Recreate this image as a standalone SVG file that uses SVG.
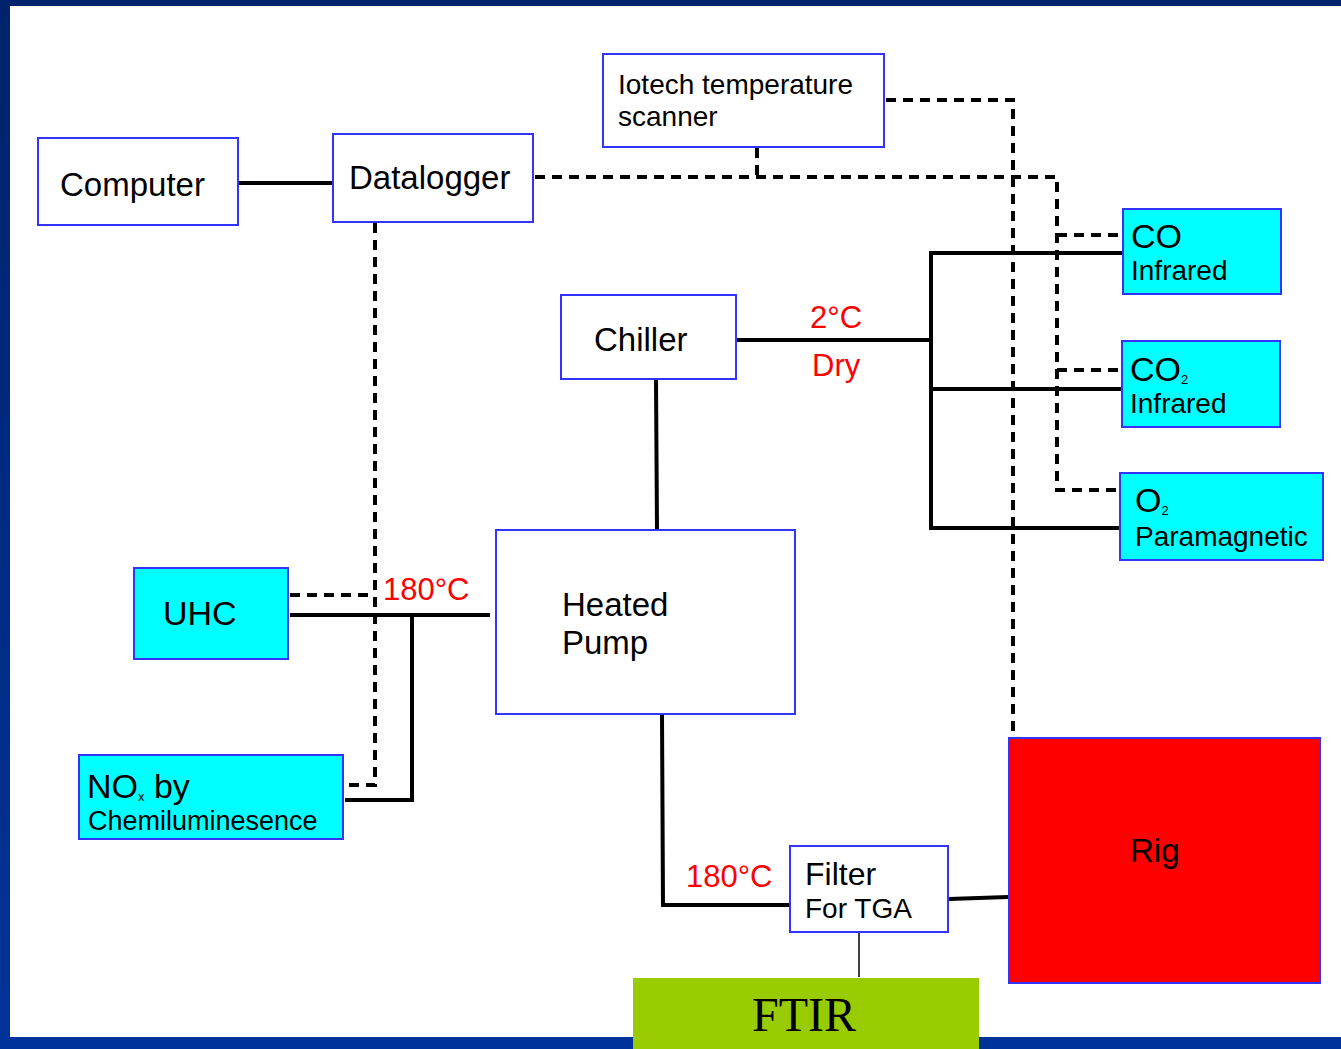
<svg xmlns="http://www.w3.org/2000/svg" width="1341" height="1049" viewBox="0 0 1341 1049">
<defs>
<linearGradient id="lg" x1="0" y1="0" x2="0" y2="1">
<stop offset="0" stop-color="#00236B"/>
<stop offset="1" stop-color="#003399"/>
</linearGradient>
<style>
.box{fill:#fff;stroke:#3333FF;stroke-width:2}
.cy{fill:#00FFFF;stroke:#3333FF;stroke-width:2}
.t{font-family:"Liberation Sans",Arial,sans-serif;fill:#000}
.red{font-family:"Liberation Sans",Arial,sans-serif;fill:#FF0000}
.s{fill:none;stroke:#000;stroke-width:4}
.d{fill:none;stroke:#000;stroke-width:4;stroke-dasharray:10 7}
</style>
</defs>
<rect x="0" y="0" width="1341" height="1049" fill="#fff"/>
<rect x="0" y="0" width="1341" height="6" fill="#00236B"/>
<rect x="0" y="0" width="10" height="1049" fill="url(#lg)"/>
<rect x="0" y="1037" width="1341" height="12" fill="#003399"/>

<g id="connectors">
<line class="s" x1="238" y1="183" x2="333" y2="183"/>
<polyline class="d" points="535,177 1057,177 1057,490 1120,490"/>
<line class="d" x1="1057" y1="235" x2="1122" y2="235"/>
<line class="d" x1="1057" y1="370" x2="1121" y2="370"/>
<line class="d" x1="757" y1="148" x2="757" y2="177"/>
<polyline class="d" points="886,100 1013,100 1013,738"/>
<polyline class="d" points="375,223 375,785 348,785"/>
<line class="d" x1="290" y1="595" x2="375" y2="595"/>
<line class="s" x1="736" y1="340" x2="931" y2="340"/>
<polyline class="s" points="1122,253 931,253 931,528 1120,528"/>
<line class="s" x1="931" y1="389" x2="1121" y2="389"/>
<line class="s" x1="656" y1="380" x2="657" y2="530"/>
<line class="s" x1="290" y1="615" x2="490" y2="615"/>
<polyline class="s" points="412,615 412,800 345,800"/>
<polyline class="s" points="662,715 663,905 790,905"/>
<line class="s" x1="949" y1="899" x2="1008" y2="897"/>
<line x1="859" y1="932" x2="859" y2="977" stroke="#000" stroke-width="1.5"/>
</g>

<g id="computer">
<rect class="box" x="38" y="138" width="200" height="87"/>
<text class="t" x="60" y="196" font-size="33">Computer</text>
</g>
<g id="datalogger">
<rect class="box" x="333" y="134" width="200" height="88"/>
<text class="t" x="349" y="189" font-size="33">Datalogger</text>
</g>
<g id="iotech">
<rect class="box" x="603" y="54" width="281" height="93"/>
<text class="t" x="618" y="94" font-size="28">Iotech temperature</text>
<text class="t" x="618" y="126" font-size="28">scanner</text>
</g>
<g id="chiller">
<rect class="box" x="561" y="295" width="175" height="84"/>
<text class="t" x="594" y="351" font-size="33">Chiller</text>
</g>
<g id="label-2c">
<text class="red" x="810" y="328" font-size="31">2°C</text>
<text class="red" x="812" y="376" font-size="31">Dry</text>
</g>
<g id="co">
<rect class="cy" x="1123" y="209" width="158" height="85"/>
<text class="t" x="1131" y="248" font-size="34">CO</text>
<text class="t" x="1131" y="280" font-size="28">Infrared</text>
</g>
<g id="co2">
<rect class="cy" x="1122" y="341" width="158" height="86"/>
<text class="t" x="1130" y="381" font-size="34">CO<tspan font-size="13" dy="3">2</tspan></text>
<text class="t" x="1130" y="413" font-size="28">Infrared</text>
</g>
<g id="o2">
<rect class="cy" x="1120" y="473" width="203" height="87"/>
<text class="t" x="1135" y="512" font-size="34">O<tspan font-size="13" dy="3">2</tspan></text>
<text class="t" x="1135" y="546" font-size="28">Paramagnetic</text>
</g>
<g id="heated-pump">
<rect class="box" x="496" y="530" width="299" height="184"/>
<text class="t" x="562" y="616" font-size="33">Heated</text>
<text class="t" x="562" y="654" font-size="33">Pump</text>
</g>
<g id="label-180a">
<text class="red" x="383" y="600" font-size="31">180°C</text>
</g>
<g id="uhc">
<rect class="cy" x="134" y="568" width="154" height="91"/>
<text class="t" x="163" y="625" font-size="34">UHC</text>
</g>
<g id="nox">
<rect class="cy" x="79" y="755" width="264" height="84"/>
<text class="t" x="87" y="798" font-size="34">NO<tspan font-size="13" dy="3">x</tspan><tspan dy="-3"> by</tspan></text>
<text class="t" x="88" y="830" font-size="27">Chemiluminesence</text>
</g>
<g id="rig">
<rect x="1009" y="738" width="311" height="245" fill="#FF0000" stroke="#3333FF" stroke-width="2"/>
<text class="t" x="1130" y="862" font-size="33">Rig</text>
</g>
<g id="label-180b">
<text class="red" x="686" y="887" font-size="31">180°C</text>
</g>
<g id="filter">
<rect class="box" x="790" y="846" width="158" height="86"/>
<text class="t" x="805" y="885" font-size="32">Filter</text>
<text class="t" x="805" y="918" font-size="28">For TGA</text>
</g>
<g id="ftir">
<rect x="633" y="978" width="346" height="71" fill="#99CC00"/>
<text x="752" y="1031" font-family="Liberation Serif,'Times New Roman',serif" font-size="48" fill="#000">FTIR</text>
</g>
</svg>
